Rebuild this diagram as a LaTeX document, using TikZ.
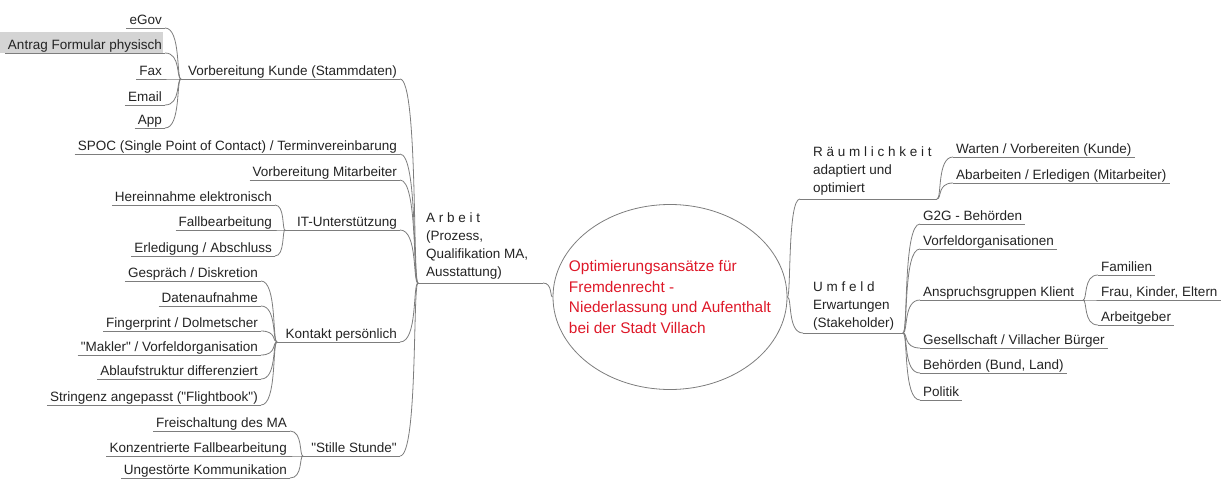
\documentclass[tikz,border=0pt]{standalone}
\usepackage{fontspec}
\setmainfont{Liberation Sans}[Ligatures=TeXOff]
\usetikzlibrary{shapes.geometric,calc}
\definecolor{lc}{RGB}{125,125,125}
\definecolor{tc}{RGB}{35,35,35}
\definecolor{rc}{RGB}{222,24,40}
\definecolor{hl}{RGB}{212,212,212}
\newcommand\lcon[2]{\draw[ln] let \p1=(#1), \p2=(#2) in (\p1) .. controls (\x2,\y1) and ({\x2-0.3*(\x2-\x1)},\y2) .. (\p2);}
\newcommand\rcon[2]{\draw[ln] let \p1=(#1), \p2=(#2) in (\p1) .. controls ({\x1+0.3*(\x2-\x1)},\y1) and (\x1,\y2) .. (\p2);}
\begin{document}
\begin{tikzpicture}[x=1pt,y=-1pt,
  ln/.style={draw=lc,line width=0.8pt},
  tbase/.style={font=\fontsize{13.5}{17.7}\selectfont, text=tc, inner xsep=3pt, inner ysep=1pt, text height=10pt, text depth=2pt},
  lt/.style={tbase, anchor=south east, append after command={(\tikzlastnode.south west) edge[ln] (\tikzlastnode.south east)}},
  rt/.style={tbase, anchor=south west, append after command={(\tikzlastnode.south west) edge[ln] (\tikzlastnode.south east)}},
  multi/.style={font=\fontsize{13.5}{17.7}\selectfont, text=tc, align=left, anchor=north west, inner sep=0pt},
  centre/.style={ellipse, draw=lc, line width=0.8pt, minimum width=234pt, minimum height=185pt, inner sep=0pt},
  ctext/.style={align=left, text=rc, inner sep=0pt, font=\fontsize{15.4}{20.5}\selectfont}
]
\useasboundingbox (0,0) rectangle (1223,479);
\fill[hl] (0,32) rectangle (163,53);

% centre
\node[centre] (E) at (670,297) {};
\node[ctext] (Et) at (E.center) {Optimierungsans\"atze f\"ur\\Fremdenrecht -\\Niederlassung und Aufenthalt\\bei der Stadt Villach};

% ---------------- left: Arbeit
\coordinate (jA) at (418,283);
\coordinate (aR) at (543,283);
\node[multi] (arb) at (426,213) {A r b e i t\\(Prozess,\\Qualifikation MA,\\Ausstattung)};
\draw[ln] (jA) -- (aR);
\lcon{aR}{E.west}

% Vorbereitung Kunde
\coordinate (jVK) at (181,79);
\node[rt] (vk) at (185,79) {Vorbereitung Kunde (Stammdaten)};
\draw[ln] (jVK) -- (vk.south west);
\node[lt] (egov) at (165,28) {eGov};
\node[lt] (antrag) at (165,53) {Antrag Formular physisch};
\node[lt] (fax) at (165,79) {Fax};
\node[lt] (email) at (165,105) {Email};
\node[lt] (app) at (165,128) {App};
\foreach \m in {egov,antrag,fax,email,app}{\lcon{\m.south east}{jVK}}
\lcon{vk.south east}{jA}

% SPOC, Vorbereitung Mitarbeiter
\node[lt] (spoc) at (400,154) {SPOC (Single Point of Contact) / Terminvereinbarung};
\node[lt] (vm) at (400,180) {Vorbereitung Mitarbeiter};
\lcon{spoc.south east}{jA}
\lcon{vm.south east}{jA}

% IT-Unterstuetzung
\coordinate (jIT) at (285,230);
\node[lt] (it) at (400,230) {IT-Unterst\"utzung};
\draw[ln] (jIT) -- (it.south west);
\node[lt] (here) at (275,205) {Hereinnahme elektronisch};
\node[lt] (fall) at (275,230) {Fallbearbeitung};
\node[lt] (erl) at (275,256) {Erledigung / Abschluss};
\foreach \m in {here,fall,erl}{\lcon{\m.south east}{jIT}}
\lcon{it.south east}{jA}

% Kontakt persoenlich
\coordinate (jK) at (277,342);
\node[lt] (kon) at (400,342) {Kontakt pers\"onlich};
\draw[ln] (jK) -- (kon.south west);
\node[lt] (ges) at (261,281) {Gespr\"ach / Diskretion};
\node[lt] (dat) at (261,306) {Datenaufnahme};
\node[lt] (fin) at (261,331) {Fingerprint / Dolmetscher};
\node[lt] (mak) at (261,355) {"Makler" / Vorfeldorganisation};
\node[lt] (abl) at (261,379) {Ablaufstruktur differenziert};
\node[lt] (str) at (261,405) {Stringenz angepasst ("Flightbook")};
\foreach \m in {ges,dat,fin,mak,abl,str}{\lcon{\m.south east}{jK}}
\lcon{kon.south east}{jA}

% Stille Stunde
\coordinate (jS) at (303,456);
\node[lt] (sti) at (400,456) {"Stille Stunde"};
\draw[ln] (jS) -- (sti.south west);
\node[lt] (frei) at (290,431) {Freischaltung des MA};
\node[lt] (konz) at (290,456) {Konzentrierte Fallbearbeitung};
\node[lt] (ung) at (290,478) {Ungest\"orte Kommunikation};
\foreach \m in {frei,konz,ung}{\lcon{\m.south east}{jS}}
\lcon{sti.south east}{jA}

% ---------------- right: Raeumlichkeit
\coordinate (rL) at (800,199);
\coordinate (jR) at (937,199);
\node[multi] (rau) at (813,147) {R \"a u m l i c h k e i t\\adaptiert und\\optimiert};
\draw[ln] (rL) -- (jR);
\rcon{E.east}{rL}
\node[rt] (war) at (953,157) {Warten / Vorbereiten (Kunde)};
\node[rt] (abar) at (953,183) {Abarbeiten / Erledigen (Mitarbeiter)};
\rcon{jR}{war.south west}
\rcon{jR}{abar.south west}

% Umfeld
\coordinate (uL) at (803,333);
\coordinate (jU) at (903,333);
\node[multi] (umf) at (813,282) {U m f e l d\\Erwartungen\\(Stakeholder)};
\draw[ln] (uL) -- (jU);
\rcon{E.east}{uL}
\node[rt] (g2g) at (920,224) {G2G - Beh\"orden};
\node[rt] (vfo) at (920,249) {Vorfeldorganisationen};
\node[rt] (ak) at (920,300) {Anspruchsgruppen Klient};
\node[rt] (gvb) at (920,348) {Gesellschaft / Villacher B\"urger};
\node[rt] (beh) at (920,373) {Beh\"orden (Bund, Land)};
\node[rt] (pol) at (920,400) {Politik};
\foreach \m in {g2g,vfo,ak,gvb,beh,pol}{\rcon{jU}{\m.south west}}

% Anspruchsgruppen
\coordinate (jAK) at (1083,300);
\draw[ln] (ak.south east) -- (jAK);
\node[rt] (fam) at (1098,275) {Familien};
\node[rt] (frau) at (1098,300) {Frau, Kinder, Eltern};
\node[rt] (agb) at (1098,325) {Arbeitgeber};
\foreach \m in {fam,frau,agb}{\rcon{jAK}{\m.south west}}
\end{tikzpicture}
\end{document}
